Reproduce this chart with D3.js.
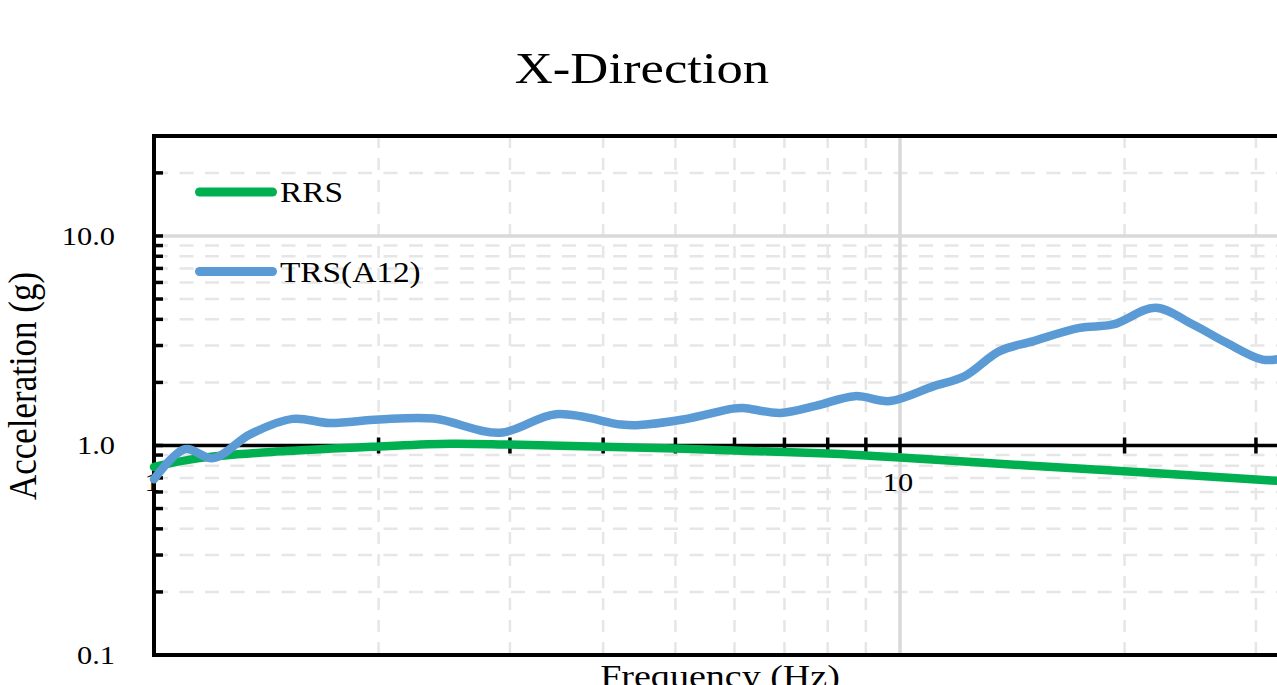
<!DOCTYPE html>
<html>
<head>
<meta charset="utf-8">
<script src="https://cdn.jsdelivr.net/npm/d3@7"></script>
<style>
  html, body { margin: 0; padding: 0; background: #fff; overflow: hidden; }
  svg { display: block; }
</style>
</head>
<body>
<svg id="chart" width="1277" height="685"></svg>
<script>
// Required response spectrum (RRS)
const freqRRS = [1, 1.15, 1.5, 2, 2.5, 3, 4, 5, 6, 7, 8, 9, 10, 15, 20, 30, 35];
const accRRS  = [0.79, 0.87, 0.94, 0.99, 1.02, 1.01, 0.985, 0.968, 0.947, 0.93, 0.915, 0.895, 0.876, 0.80, 0.754, 0.688, 0.665];

// Test response spectrum, accelerometer A12
const freqTRS = [1.00, 1.10, 1.20, 1.345, 1.535, 1.72, 2.00, 2.37, 2.91, 3.46, 4.22, 4.43, 5.12, 5.97, 6.16, 6.91, 7.73, 8.70, 9.70, 11.1, 12.2, 13.6, 15.1, 17.4, 19.3, 22.0, 24.7, 27.4, 30.6, 32.5];
const accTRS  = [0.69, 0.96, 0.87, 1.13, 1.34, 1.28, 1.33, 1.345, 1.15, 1.41, 1.26, 1.25, 1.33, 1.50, 1.51, 1.43, 1.55, 1.72, 1.63, 1.92, 2.14, 2.82, 3.15, 3.64, 3.78, 4.54, 3.78, 3.09, 2.57, 2.60];

const seriesNames = ["RRS", "TRS(A12)"];
const seriesColors = ["#00b050", "#5b9bd5"];

const yTicks = [0.1, 1, 10];
const yTickLabels = ["0.1", "1.0", "10.0"];
const xTicks = [1, 10];
const xTickLabels = ["1", "10"];
const yMinor = [0.2, 0.3, 0.4, 0.5, 0.6, 0.7, 0.8, 0.9, 2, 3, 4, 5, 6, 7, 8, 9, 20];
const xMinor = [2, 3, 4, 5, 6, 7, 8, 9, 20, 30, 40, 50, 60, 70, 80, 90];

const titleText = "X-Direction";
const xTitle = "Frequency (Hz)";
const yTitle = "Acceleration (g)";

const svg = d3.select("#chart");
const W = 1277, H = 685;

const x = d3.scaleLog().domain([1, 100]).range([154, 1646]);
const y = d3.scaleLog().domain([0.1, 30]).range([655, 136]);

const plotLeft = x(1), plotTop = y(30), plotBottom = y(0.1);
const FONT = "'Liberation Serif', 'Times New Roman', serif";
const SX = 1.17; // horizontal glyph stretch

function label(s, px, py, size, anchor, rot) {
  return svg.append("text")
    .attr("transform", rot
      ? `translate(${px},${py}) rotate(-90) scale(1,${SX})`
      : `translate(${px},${py}) scale(${SX},1)`)
    .attr("text-anchor", anchor)
    .attr("font-family", FONT)
    .attr("font-size", size)
    .attr("fill", "#000")
    .text(s);
}

// Minor gridlines (dashed)
const grid = svg.append("g");
grid.selectAll("line.hm").data(yMinor.filter(v => y(v) > plotTop + 2)).join("line")
  .attr("x1", plotLeft).attr("x2", W + 5)
  .attr("y1", d => y(d)).attr("y2", d => y(d))
  .attr("stroke", "#e6e6e6").attr("stroke-width", 2.5)
  .attr("stroke-dasharray", "14,11.5");
grid.selectAll("line.vm").data(xMinor.filter(v => x(v) < W + 5)).join("line")
  .attr("x1", d => x(d)).attr("x2", d => x(d))
  .attr("y1", plotTop).attr("y2", plotBottom)
  .attr("stroke", "#e6e6e6").attr("stroke-width", 2.5)
  .attr("stroke-dasharray", "12,10");

// Major gridlines (solid)
grid.append("line")
  .attr("x1", plotLeft).attr("x2", W + 5).attr("y1", y(10)).attr("y2", y(10))
  .attr("stroke", "#d9d9d9").attr("stroke-width", 3.5);
grid.append("line")
  .attr("x1", x(10)).attr("x2", x(10)).attr("y1", plotTop).attr("y2", plotBottom)
  .attr("stroke", "#d9d9d9").attr("stroke-width", 3.5);

// Plot-area border (top / bottom)
svg.append("line").attr("x1", plotLeft - 2).attr("x2", W + 5).attr("y1", plotTop).attr("y2", plotTop)
  .attr("stroke", "#000").attr("stroke-width", 4);
svg.append("line").attr("x1", plotLeft - 2).attr("x2", W + 5).attr("y1", plotBottom).attr("y2", plotBottom)
  .attr("stroke", "#000").attr("stroke-width", 4);

// Y axis (left) with inward ticks
svg.append("line").attr("x1", plotLeft).attr("x2", plotLeft).attr("y1", plotTop - 2).attr("y2", plotBottom + 2)
  .attr("stroke", "#000").attr("stroke-width", 4);
svg.selectAll("line.yt").data(yMinor.concat(yTicks).filter(v => y(v) > plotTop + 2 && y(v) < plotBottom - 2)).join("line")
  .attr("x1", plotLeft).attr("x2", plotLeft + 9)
  .attr("y1", d => y(d)).attr("y2", d => y(d))
  .attr("stroke", "#000").attr("stroke-width", 3.5);

// X axis crossing at 1.0 g with cross ticks
svg.append("line").attr("x1", plotLeft).attr("x2", W + 5).attr("y1", y(1)).attr("y2", y(1))
  .attr("stroke", "#000").attr("stroke-width", 3.5);
svg.selectAll("line.xt").data(xMinor.concat([10]).filter(v => x(v) < W + 5)).join("line")
  .attr("x1", d => x(d)).attr("x2", d => x(d))
  .attr("y1", y(1) - 8).attr("y2", y(1) + 8)
  .attr("stroke", "#000").attr("stroke-width", 3.5);

// Tick labels
yTicks.forEach((v, i) => label(yTickLabels[i], 115, y(v) + 9, 26, "end"));
xTicks.forEach((v, i) => label(xTickLabels[i], x(v) - 2, 491, 26, "middle"));

// Titles
label(titleText, 642, 83, 45, "middle");
label(xTitle, 720, 687, 32.5, "middle");
label(yTitle, 36, 386, 35, "middle", true);

// Series
const line = d3.line()
  .x(d => x(d[0])).y(d => y(d[1]))
  .curve(d3.curveCatmullRom.alpha(0.5));

const rrs = freqRRS.map((f, i) => [f, accRRS[i]]);
const trs = freqTRS.map((f, i) => [f, accTRS[i]]);

[rrs, trs].forEach((data, i) => {
  svg.append("path")
    .datum(data)
    .attr("d", line)
    .attr("fill", "none")
    .attr("stroke", seriesColors[i])
    .attr("stroke-width", 8.5)
    .attr("stroke-linecap", "round")
    .attr("stroke-linejoin", "round");
});

// Legend
const legendY = [192, 271.5];
const legendTextY = [202, 282];
seriesNames.forEach((name, i) => {
  svg.append("line")
    .attr("x1", 199.5).attr("x2", 272.5)
    .attr("y1", legendY[i]).attr("y2", legendY[i])
    .attr("stroke", seriesColors[i]).attr("stroke-width", 9)
    .attr("stroke-linecap", "round");
  label(name, 280, legendTextY[i], 28.5, "start");
});
</script>
</body>
</html>
